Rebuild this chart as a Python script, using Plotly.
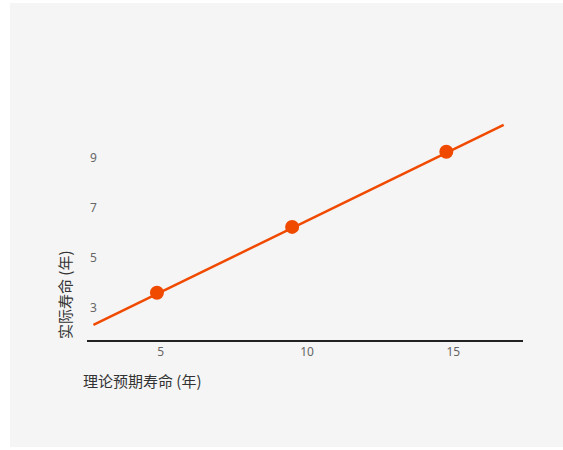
import plotly.graph_objects as go

# Data
expected_life = [4.87, 9.49, 14.76]
actual_life = [3.6, 6.23, 9.23]
trend_x = [2.7, 16.72]
trend_y = [2.31, 10.31]
x_ticks = [5, 10, 15]
y_ticks = [3, 5, 7, 9]

COLOR = "#F04A00"

fig = go.Figure()
fig.add_trace(go.Scatter(x=trend_x, y=trend_y, mode="lines",
                         line=dict(color=COLOR, width=2.5), hoverinfo="skip",
                         showlegend=False))
fig.add_trace(go.Scatter(x=expected_life, y=actual_life, mode="markers",
                         marker=dict(color=COLOR, size=14), showlegend=False))

L, R, T, B = 87, 40, 100, 110
W, H = 563, 450
pw, ph = W - L - R, H - T - B

def px2paper_x(px):
    return (px - L) / pw

def px2paper_y(py):
    return (H - B - py) / ph

fig.add_shape(type="rect", xref="paper", yref="paper", layer="below",
              x0=px2paper_x(10), x1=px2paper_x(570),
              y0=px2paper_y(447), y1=px2paper_y(3),
              fillcolor="#F5F5F5", line=dict(width=0))

fig.add_annotation(text="理论预期寿命 (年)", xref="paper", yref="paper",
                   x=px2paper_x(81), y=px2paper_y(380), xanchor="left", yanchor="middle",
                   showarrow=False, font=dict(size=15, color="#333333"))
fig.add_annotation(text="实际寿命 (年)", xref="paper", yref="paper",
                   x=px2paper_x(64), y=px2paper_y(295), xanchor="center", yanchor="middle",
                   textangle=-90, showarrow=False, font=dict(size=15, color="#333333"))

fig.update_layout(
    width=W, height=H,
    margin=dict(l=L, r=R, t=T, b=B),
    paper_bgcolor="white", plot_bgcolor="rgba(0,0,0,0)",
    font=dict(family="Noto Sans CJK SC, Noto Sans, sans-serif", color="#666666", size=12),
    xaxis=dict(range=[2.48, 17.38], tickvals=x_ticks, showgrid=False, zeroline=False,
               showline=True, linecolor="#222222", linewidth=2, ticks="",
               tickfont=dict(family="Noto Sans, sans-serif", size=12, color="#666666")),
    yaxis=dict(range=[1.71, 11.3], tickvals=y_ticks, showgrid=False, zeroline=False,
               showline=False, ticks="", ticklabelposition="inside",
               tickfont=dict(family="Noto Sans, sans-serif", size=12, color="#666666")),
)

fig.write_html("out.html", config={"displayModeBar": False},
               post_script="document.body.style.margin='0';document.body.style.overflow='hidden';")
